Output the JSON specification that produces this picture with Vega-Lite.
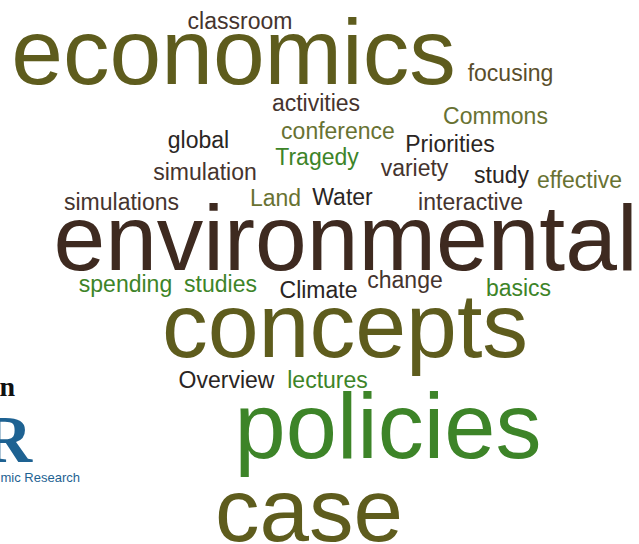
{
  "$schema": "https://vega.github.io/schema/vega-lite/v6.json",
  "width": 639,
  "height": 544,
  "autosize": {"type": "none"},
  "padding": 0,
  "background": "white",
  "config": {"view": {"stroke": null}},
  "data": {"values": [
    {"word": "economics", "x": 233.5, "y": 84, "size": 93, "tone": "olive", "kind": "word"},
    {"word": "environmental", "x": 345.5, "y": 270, "size": 93, "tone": "darkbrown", "kind": "word"},
    {"word": "concepts", "x": 345, "y": 357, "size": 91.5, "tone": "olive", "kind": "word"},
    {"word": "policies", "x": 388, "y": 458, "size": 92, "tone": "green", "kind": "word"},
    {"word": "case", "x": 309, "y": 541, "size": 89, "tone": "olive", "kind": "word"},
    {"word": "classroom", "x": 240, "y": 29, "size": 23, "tone": "brown", "kind": "word"},
    {"word": "focusing", "x": 510.5, "y": 81, "size": 23, "tone": "khaki", "kind": "word"},
    {"word": "activities", "x": 316, "y": 111, "size": 23, "tone": "brown", "kind": "word"},
    {"word": "Commons", "x": 495.5, "y": 124, "size": 23, "tone": "olivegreen", "kind": "word"},
    {"word": "conference", "x": 338, "y": 139, "size": 23, "tone": "olivegreen", "kind": "word"},
    {"word": "global", "x": 198.5, "y": 148, "size": 23, "tone": "black", "kind": "word"},
    {"word": "Priorities", "x": 450, "y": 152, "size": 23, "tone": "black", "kind": "word"},
    {"word": "Tragedy", "x": 317, "y": 165, "size": 23, "tone": "green", "kind": "word"},
    {"word": "simulation", "x": 205, "y": 180, "size": 23, "tone": "brown", "kind": "word"},
    {"word": "variety", "x": 414.5, "y": 176, "size": 23, "tone": "brown", "kind": "word"},
    {"word": "study", "x": 501.5, "y": 183, "size": 23, "tone": "black", "kind": "word"},
    {"word": "effective", "x": 579.5, "y": 188, "size": 23, "tone": "olivegreen", "kind": "word"},
    {"word": "simulations", "x": 121.5, "y": 210, "size": 23, "tone": "brown", "kind": "word"},
    {"word": "Land", "x": 275.5, "y": 206, "size": 23, "tone": "olivegreen", "kind": "word"},
    {"word": "Water", "x": 342.5, "y": 205, "size": 23, "tone": "black", "kind": "word"},
    {"word": "interactive", "x": 470.5, "y": 210, "size": 23, "tone": "brown", "kind": "word"},
    {"word": "spending", "x": 125.5, "y": 292, "size": 23, "tone": "green", "kind": "word"},
    {"word": "studies", "x": 220.5, "y": 292, "size": 23, "tone": "green", "kind": "word"},
    {"word": "Climate", "x": 318.5, "y": 298, "size": 23, "tone": "black", "kind": "word"},
    {"word": "change", "x": 405, "y": 288, "size": 23, "tone": "brown", "kind": "word"},
    {"word": "basics", "x": 518.5, "y": 296, "size": 23, "tone": "green", "kind": "word"},
    {"word": "Overview", "x": 226.5, "y": 388, "size": 23, "tone": "black", "kind": "word"},
    {"word": "lectures", "x": 327.5, "y": 388, "size": 23, "tone": "green", "kind": "word"},
    {"word": "n", "x": 15, "y": 396, "size": 28, "tone": "logoblack", "kind": "serifbold"},
    {"word": "R", "x": 32, "y": 462, "size": 68, "tone": "logoblue", "kind": "serif"},
    {"word": "mic Research", "x": 80, "y": 482, "size": 13, "tone": "logoblue", "kind": "sans"}
  ]},
  "encoding": {
    "x": {"field": "x", "type": "quantitative", "axis": null, "scale": {"domain": [0, 639], "nice": false, "zero": false}},
    "y": {"field": "y", "type": "quantitative", "axis": null, "scale": {"domain": [0, 544], "nice": false, "zero": false, "reverse": true}},
    "text": {"field": "word"},
    "size": {"field": "size", "type": "quantitative", "legend": null, "scale": {"domain": [0, 100], "range": [0, 100]}},
    "color": {"field": "tone", "type": "nominal", "legend": null, "scale": {
      "domain": ["olive", "darkbrown", "green", "brown", "khaki", "olivegreen", "black", "logoblack", "logoblue"],
      "range": ["#5e5c1d", "#3e2a20", "#3d8428", "#45342e", "#5a4e2b", "#687232", "#2a2523", "#111111", "#1e6292"]
    }}
  },
  "layer": [
    {"transform": [{"filter": "datum.kind === 'word'"}],
     "mark": {"type": "text", "font": "Liberation Sans", "align": "center", "baseline": "alphabetic"}},
    {"transform": [{"filter": "datum.kind === 'serifbold'"}],
     "mark": {"type": "text", "font": "Liberation Serif", "fontWeight": "bold", "align": "right", "baseline": "alphabetic"}},
    {"transform": [{"filter": "datum.kind === 'serif'"}],
     "mark": {"type": "text", "font": "Liberation Serif", "fontWeight": "bold", "align": "right", "baseline": "alphabetic"}},
    {"transform": [{"filter": "datum.kind === 'sans'"}],
     "mark": {"type": "text", "font": "Liberation Sans", "align": "right", "baseline": "alphabetic"}}
  ]
}
